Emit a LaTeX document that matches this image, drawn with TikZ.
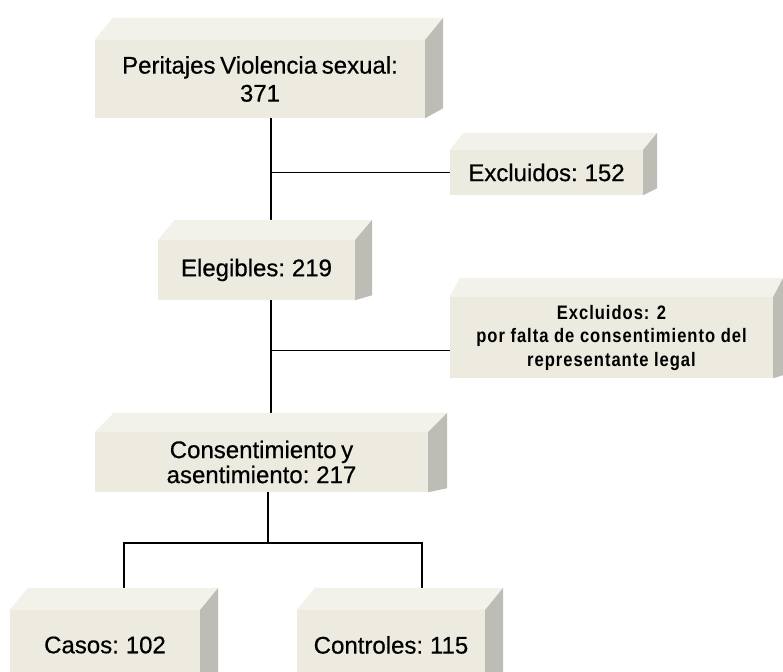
\documentclass[tikz,border=0pt]{standalone}
\usepackage{fontspec}
\setmainfont{Liberation Sans}[FakeBold=0.6, WordSpace=0.7]
\newfontfamily\estrecha{Liberation Sans}[UprightFont=* Bold, FakeStretch=0.85, LetterSpace=5]
\usetikzlibrary{backgrounds}

\definecolor{frente}{RGB}{237,235,224}
\definecolor{techo}{RGB}{242,241,234}
\definecolor{costado}{RGB}{190,189,181}

% top and side faces of a box: node, dx, dy (top), dy (bottom)
\newcommand{\caras}[4]{%
  \fill[techo] (#1.north west) -- ++(#2,-#3) -- ([shift={(#2,-#3)}]#1.north east) -- (#1.north east) -- cycle;
  \fill[costado] (#1.north east) -- ++(#2,-#3) -- ([shift={(#2,-#4)}]#1.south east) -- (#1.south east) -- cycle;
}

\begin{document}
\begin{tikzpicture}[
  x=1pt, y=-1pt,
  caja/.style={
    fill=frente,
    inner sep=0pt,
    align=center,
    font=\fontsize{24}{28}\selectfont
  },
  linea/.style={
    draw,
    line width=1.6pt,
    color=black
  }
]%
\clip (0,0) rectangle (783,671);

\node [caja, minimum width=330pt, minimum height=78pt] (per) at (260,79) {Peritajes Violencia sexual:\\371};
\node [caja, minimum width=193pt, minimum height=45pt] (exc1) at (546.5,172.5) {Excluidos: 152};
\node [caja, minimum width=197pt, minimum height=60pt] (ele) at (256.5,270) {Elegibles: 219};
\node [caja, minimum width=323pt, minimum height=81pt, font=\estrecha\fontsize{19.5}{23.5}\selectfont] (exc2) at (611.5,337.5)
  {Excluidos: 2\\por falta de consentimiento del\\representante legal};
\node [caja, minimum width=333pt, minimum height=60pt, font=\fontsize{24}{25}\selectfont] (cons) at (261.5,462) {Consentimiento y\\asentimiento: 217};
\node [caja, minimum width=190pt, minimum height=70pt] (casos) at (105,645) {Casos: 102};
\node [caja, minimum width=188pt, minimum height=70pt] (ctrl) at (391,645) {Controles: 115};

\caras{per}{18}{22}{10}
\caras{exc1}{14}{17}{7}
\caras{ele}{17}{20}{5}
\caras{exc2}{10}{19}{3}
\caras{cons}{19}{19}{4}
\caras{casos}{18}{22}{6}
\caras{ctrl}{18}{22}{6}

\coordinate (eje) at (271,0);
\coordinate (rama) at (268,543);
\coordinate (ri) at (124,543);
\coordinate (rd) at (422,543);

\begin{scope}[on background layer]
  \fill[white] (0,0) rectangle (783,671);
  \path [linea] (per.south -| eje) -- (ele.north -| eje);
  \path [linea] (exc1.west) -- (exc1.west -| eje);
  \path [linea] (ele.south -| eje) -- (cons.north -| eje);
  \path [linea] ([yshift=-13pt]exc2.west) -- ([yshift=-13pt]exc2.west -| eje);
  \path [linea] (cons.south -| rama) -- (rama);
  \path [linea] (casos.north -| ri) -- (ri) -- (rd) -- (ctrl.north -| rd);
\end{scope}
\end{tikzpicture}
\end{document}
